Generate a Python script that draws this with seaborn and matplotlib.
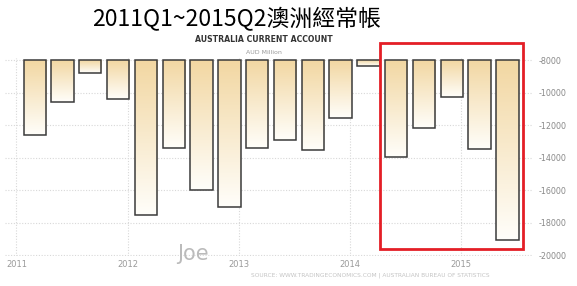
import numpy as np
import pandas as pd
import matplotlib
matplotlib.use("Agg")
import matplotlib.pyplot as plt
import seaborn as sns
from matplotlib.patches import Rectangle
from matplotlib.colors import to_rgb

# ---- data (AUD million) ----
quarters = ["2011Q1", "2011Q2", "2011Q3", "2011Q4",
            "2012Q1", "2012Q2", "2012Q3", "2012Q4",
            "2013Q1", "2013Q2", "2013Q3", "2013Q4",
            "2014Q1", "2014Q2", "2014Q3", "2014Q4",
            "2015Q1", "2015Q2"]
values = [-12600, -10530, -8780, -10370,
          -17530, -13400, -16000, -17000,
          -13400, -12870, -13540, -11540,
          -8350, -13930, -12130, -10230,
          -13440, -19040]
year_labels = ["2011", "2012", "2013", "2014", "2015"]
y_ticks = [-8000, -10000, -12000, -14000, -16000, -18000, -20000]
baseline = -8000

title = "2011Q1~2015Q2澳洲經常帳"
subtitle = "AUSTRALIA CURRENT ACCOUNT"
unit = "AUD Million"
source = "SOURCE: WWW.TRADINGECONOMICS.COM | AUSTRALIAN BUREAU OF STATISTICS"
watermark = "Joe"

sns.set_theme(style="white")
plt.rcParams['font.family'] = ['DejaVu Sans']

W, H = 577, 286
fig = plt.figure(figsize=(W / 100, H / 100), dpi=100)
fig.patch.set_facecolor("white")
ax = fig.add_axes([5 / W, 1 - 256 / H, (533 - 5) / W, (256 - 58) / H])

df = pd.DataFrame({"quarter": quarters, "depth": np.array(values) - baseline})
sns.barplot(data=df, x="quarter", y="depth", order=quarters, width=0.8,
            color="#f3d9a6", edgecolor="#3a3a3a", linewidth=1.1,
            ax=ax, zorder=3)

top_c = np.array(to_rgb("#f2d7a2"))
bot_c = np.array(to_rgb("#fffefa"))
t = np.linspace(0, 1, 128)[:, None]
grad = (top_c * (1 - t) + bot_c * t)[:, None, :]

for p in list(ax.patches):
    p.set_facecolor("none")
    p.set_zorder(4)
    x0, w = p.get_x(), p.get_width()
    y0, h = p.get_y(), p.get_height()
    lo, hi = min(y0, y0 + h), max(y0, y0 + h)
    im = ax.imshow(grad, extent=[x0, x0 + w, lo, hi], origin="upper",
                   aspect="auto", zorder=3, interpolation="bilinear")
    im.set_clip_path(p)

year_offset = -0.66
ax.set_xlim(-1.07, 17.92)
ax.set_ylim(-20000 - baseline - 40, -7850 - baseline)

ax.set_xticks([year_offset + 4 * i for i in range(len(year_labels))])
ax.set_xticklabels(year_labels)
ax.set_yticks([v - baseline for v in y_ticks])
ax.set_yticklabels([str(v) for v in y_ticks])
ax.yaxis.tick_right()
ax.set_xlabel("")
ax.set_ylabel("")

ax.tick_params(axis="x", length=0, pad=3, labelsize=6, labelcolor="#9a9a9a")
ax.tick_params(axis="y", length=0, pad=4, labelsize=5.8, labelcolor="#8a8a8a")
for s in ax.spines.values():
    s.set_visible(False)
ax.grid(True, color="#d8d8d8", linestyle=(0, (1, 1.5)), linewidth=0.8)
ax.set_axisbelow(True)

fig.text(237 / W, 1 - 19.5 / H, title, fontsize=16.5, ha="center", va="center",
         family=['Noto Sans CJK TC', 'DejaVu Sans'], color="black")
fig.text(264 / W, 1 - 40 / H, subtitle, fontsize=5.6, fontweight="bold",
         ha="center", va="center", color="#333333")
fig.text(264 / W, 1 - 53 / H, unit, fontsize=4.5, ha="center", va="center",
         color="#999999")
fig.text(193 / W, 1 - 254 / H, watermark, fontsize=15, ha="center", va="center",
         color="#bbbbbb")
fig.text(370 / W, 1 - 275 / H, source, fontsize=4.2, ha="center", va="center",
         color="#c4c4c4")

fig.add_artist(Rectangle((380 / W, 1 - 249 / H), (523 - 380) / W, (249 - 43) / H,
                         transform=fig.transFigure, fill=False,
                         edgecolor="#e41e26", linewidth=2.0, zorder=10))

fig.savefig("out.png", dpi=100, facecolor="white")
